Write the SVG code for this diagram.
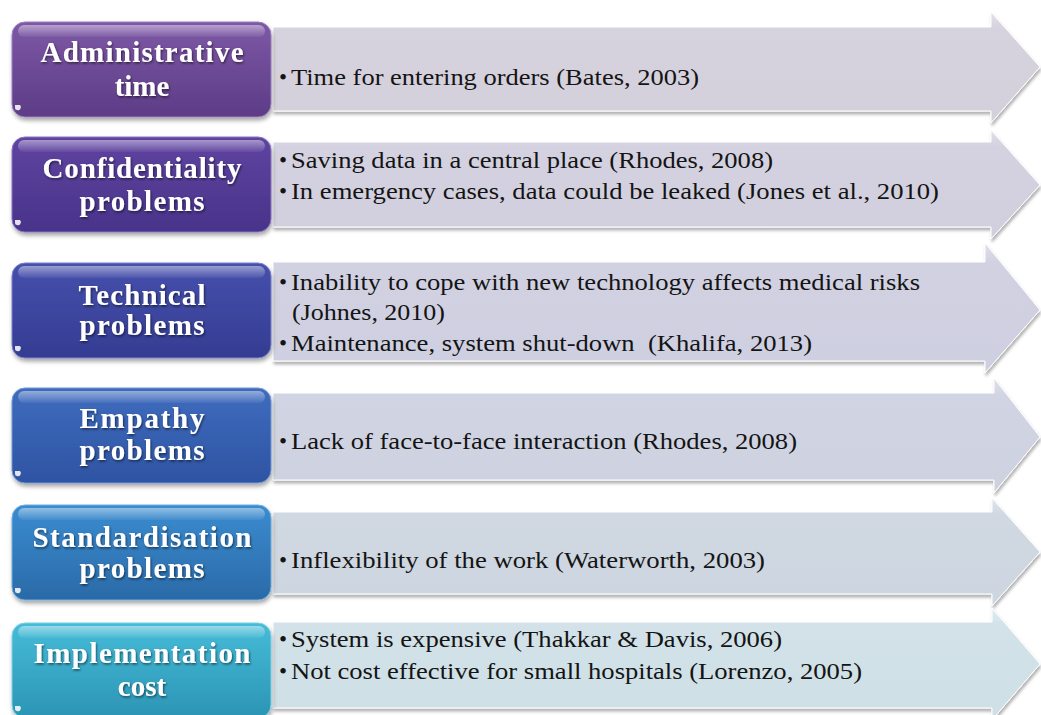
<svg xmlns="http://www.w3.org/2000/svg" width="1041" height="715" viewBox="0 0 1041 715">
<defs>
<style>
.lbl{font-weight:bold;font-size:29px;fill:#ffffff;text-anchor:middle}
.bt{font-size:23px;fill:#141414}
.gloss{fill:url(#gloss)}
.corner{fill:#ffffff;opacity:0.85}
</style>
<filter id="sh" x="-5%" y="-10%" width="112%" height="130%">
<feDropShadow dx="1" dy="3" stdDeviation="2.2" flood-color="#000" flood-opacity="0.35"/>
</filter>
<filter id="ash" x="-2%" y="-10%" width="104%" height="130%">
<feDropShadow dx="1" dy="3" stdDeviation="1.8" flood-color="#000" flood-opacity="0.3"/>
</filter>
<filter id="tsh" x="-10%" y="-20%" width="120%" height="140%">
<feDropShadow dx="1" dy="1.5" stdDeviation="1" flood-color="#000" flood-opacity="0.55"/>
</filter>
<linearGradient id="gloss" x1="0" y1="0" x2="0" y2="1">
<stop offset="0" stop-color="#fff" stop-opacity="0.45"/>
<stop offset="1" stop-color="#fff" stop-opacity="0.05"/>
</linearGradient>
<linearGradient id="g1" x1="0" y1="0" x2="0" y2="1"><stop offset="0" stop-color="#7d58a6"/><stop offset="1" stop-color="#5d3c86"/></linearGradient>
<linearGradient id="g2" x1="0" y1="0" x2="0" y2="1"><stop offset="0" stop-color="#5f44a0"/><stop offset="1" stop-color="#48338a"/></linearGradient>
<linearGradient id="g3" x1="0" y1="0" x2="0" y2="1"><stop offset="0" stop-color="#4650ac"/><stop offset="1" stop-color="#343c92"/></linearGradient>
<linearGradient id="g4" x1="0" y1="0" x2="0" y2="1"><stop offset="0" stop-color="#3f6cbf"/><stop offset="1" stop-color="#2e54a2"/></linearGradient>
<linearGradient id="g5" x1="0" y1="0" x2="0" y2="1"><stop offset="0" stop-color="#3a8cd0"/><stop offset="1" stop-color="#2b6aa8"/></linearGradient>
<linearGradient id="g6" x1="0" y1="0" x2="0" y2="1"><stop offset="0" stop-color="#45bcd8"/><stop offset="1" stop-color="#2c94b4"/></linearGradient>
<linearGradient id="a1" x1="0" y1="0" x2="0" y2="1"><stop offset="0" stop-color="#e2dfe9"/><stop offset="0.15" stop-color="#d6d3df"/><stop offset="1" stop-color="#d3d0dc"/></linearGradient>
<linearGradient id="a2" x1="0" y1="0" x2="0" y2="1"><stop offset="0" stop-color="#e0dfea"/><stop offset="0.15" stop-color="#d4d2e0"/><stop offset="1" stop-color="#d1cfde"/></linearGradient>
<linearGradient id="a3" x1="0" y1="0" x2="0" y2="1"><stop offset="0" stop-color="#dfdfeb"/><stop offset="0.15" stop-color="#d1d1e2"/><stop offset="1" stop-color="#cecfe0"/></linearGradient>
<linearGradient id="a4" x1="0" y1="0" x2="0" y2="1"><stop offset="0" stop-color="#dfe1eb"/><stop offset="0.15" stop-color="#d1d4e2"/><stop offset="1" stop-color="#ced2e0"/></linearGradient>
<linearGradient id="a5" x1="0" y1="0" x2="0" y2="1"><stop offset="0" stop-color="#dee5ec"/><stop offset="0.15" stop-color="#d0d8e2"/><stop offset="1" stop-color="#cdd5e0"/></linearGradient>
<linearGradient id="a6" x1="0" y1="0" x2="0" y2="1"><stop offset="0" stop-color="#e0eef2"/><stop offset="0.15" stop-color="#d2e2e8"/><stop offset="1" stop-color="#cedfe6"/></linearGradient>
</defs>
<rect width="1041" height="715" fill="#ffffff"/>

<g id="connectors">
<path filter="url(#ash)" fill="url(#a1)" stroke="#ffffff" stroke-width="1" d="M273,27 H991 V12 L1040,67 L991,123 V111 H273 Z"/>
<path filter="url(#ash)" fill="url(#a2)" stroke="#ffffff" stroke-width="1" d="M273,142 H991 V130 L1040,185 L991,239 V227 H273 Z"/>
<path filter="url(#ash)" fill="url(#a3)" stroke="#ffffff" stroke-width="1" d="M273,262 H985 V243 L1040,310 L985,373 V361 H273 Z"/>
<path filter="url(#ash)" fill="url(#a4)" stroke="#ffffff" stroke-width="1" d="M273,393 H994 V378 L1040,437 L994,493 V480 H273 Z"/>
<path filter="url(#ash)" fill="url(#a5)" stroke="#ffffff" stroke-width="1" d="M273,512 H992 V498 L1040,552 L992,606 V594 H273 Z"/>
<path filter="url(#ash)" fill="url(#a6)" stroke="#ffffff" stroke-width="1" d="M273,622 H992 V608 L1040,664 L992,720 V708 H273 Z"/>
</g>

<g id="texts" font-family="Liberation Serif, Times New Roman, serif">
<text class="bt" x="279" y="85">•</text>
<text class="bt" x="291" y="85" textLength="408" lengthAdjust="spacingAndGlyphs">Time for entering orders (Bates, 2003)</text>
<text class="bt" x="279" y="168">•</text>
<text class="bt" x="291" y="168" textLength="482" lengthAdjust="spacingAndGlyphs">Saving data in a central place (Rhodes, 2008)</text>
<text class="bt" x="279" y="199">•</text>
<text class="bt" x="291" y="199" textLength="648" lengthAdjust="spacingAndGlyphs">In emergency cases, data could be leaked (Jones et al., 2010)</text>
<text class="bt" x="279" y="290">•</text>
<text class="bt" x="291" y="290" textLength="629" lengthAdjust="spacingAndGlyphs">Inability to cope with new technology affects medical risks</text>
<text class="bt" x="292" y="320" textLength="153" lengthAdjust="spacingAndGlyphs">(Johnes, 2010)</text>
<text class="bt" x="279" y="351">•</text>
<text class="bt" x="291" y="351" textLength="521" lengthAdjust="spacingAndGlyphs" xml:space="preserve">Maintenance, system shut-down  (Khalifa, 2013)</text>
<text class="bt" x="279" y="449">•</text>
<text class="bt" x="291" y="449" textLength="506" lengthAdjust="spacingAndGlyphs">Lack of face-to-face interaction (Rhodes, 2008)</text>
<text class="bt" x="279" y="568">•</text>
<text class="bt" x="291" y="568" textLength="474" lengthAdjust="spacingAndGlyphs">Inflexibility of the work (Waterworth, 2003)</text>
<text class="bt" x="279" y="647">•</text>
<text class="bt" x="291" y="647" textLength="491" lengthAdjust="spacingAndGlyphs">System is expensive (Thakkar &amp; Davis, 2006)</text>
<text class="bt" x="279" y="679">•</text>
<text class="bt" x="291" y="679" textLength="571" lengthAdjust="spacingAndGlyphs">Not cost effective for small hospitals (Lorenzo, 2005)</text>
</g>

<g font-family="Liberation Serif, Times New Roman, serif">
<g id="node1" class="node">
<rect filter="url(#sh)" x="12" y="22" width="259" height="95" rx="13" fill="url(#g1)" stroke="#9a80c0"/>
<rect class="gloss" x="18" y="25" width="247" height="12" rx="6"/>
<path class="corner" d="M15,105 h5 a3,3 0 0 1 -3,5 q-2,0 -2,-2 z"/>
<g filter="url(#tsh)"><text class="lbl" x="142" y="62" textLength="203" lengthAdjust="spacing">Administrative</text><text class="lbl" x="142" y="96">time</text></g>
</g>
<g id="node2" class="node">
<rect filter="url(#sh)" x="12" y="137" width="259" height="95" rx="13" fill="url(#g2)" stroke="#8a74c4"/>
<rect class="gloss" x="18" y="140" width="247" height="12" rx="6"/>
<path class="corner" d="M15,220 h5 a3,3 0 0 1 -3,5 q-2,0 -2,-2 z"/>
<g filter="url(#tsh)"><text class="lbl" x="142" y="178" textLength="199" lengthAdjust="spacing">Confidentiality</text><text class="lbl" x="142" y="211" textLength="125" lengthAdjust="spacing">problems</text></g>
</g>
<g id="node3" class="node">
<rect filter="url(#sh)" x="12" y="263" width="259" height="95" rx="13" fill="url(#g3)" stroke="#7a80cc"/>
<rect class="gloss" x="18" y="266" width="247" height="12" rx="6"/>
<path class="corner" d="M15,346 h5 a3,3 0 0 1 -3,5 q-2,0 -2,-2 z"/>
<g filter="url(#tsh)"><text class="lbl" x="142" y="305" textLength="127" lengthAdjust="spacing">Technical</text><text class="lbl" x="142" y="335" textLength="125" lengthAdjust="spacing">problems</text></g>
</g>
<g id="node4" class="node">
<rect filter="url(#sh)" x="12" y="388" width="259" height="95" rx="13" fill="url(#g4)" stroke="#7496d4"/>
<rect class="gloss" x="18" y="391" width="247" height="12" rx="6"/>
<path class="corner" d="M15,471 h5 a3,3 0 0 1 -3,5 q-2,0 -2,-2 z"/>
<g filter="url(#tsh)"><text class="lbl" x="142" y="428" textLength="125" lengthAdjust="spacing">Empathy</text><text class="lbl" x="142" y="460" textLength="125" lengthAdjust="spacing">problems</text></g>
</g>
<g id="node5" class="node">
<rect filter="url(#sh)" x="12" y="505" width="259" height="95" rx="13" fill="url(#g5)" stroke="#70aede"/>
<rect class="gloss" x="18" y="508" width="247" height="12" rx="6"/>
<path class="corner" d="M15,588 h5 a3,3 0 0 1 -3,5 q-2,0 -2,-2 z"/>
<g filter="url(#tsh)"><text class="lbl" x="142" y="547" textLength="219" lengthAdjust="spacing">Standardisation</text><text class="lbl" x="142" y="578" textLength="125" lengthAdjust="spacing">problems</text></g>
</g>
<g id="node6" class="node">
<rect filter="url(#sh)" x="12" y="623" width="259" height="95" rx="13" fill="url(#g6)" stroke="#7ed2e6"/>
<rect class="gloss" x="18" y="626" width="247" height="12" rx="6"/>
<path class="corner" d="M15,706 h5 a3,3 0 0 1 -3,5 q-2,0 -2,-2 z"/>
<g filter="url(#tsh)"><text class="lbl" x="142" y="663" textLength="217" lengthAdjust="spacing">Implementation</text><text class="lbl" x="142" y="696">cost</text></g>
</g>
</g>
</svg>
